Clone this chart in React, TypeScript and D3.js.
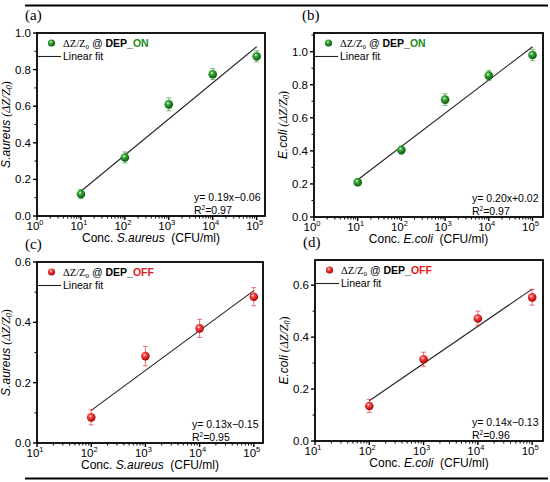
import * as d3 from "d3";

// concentrations (CFU/ml)
const concOn = [1e1, 1e2, 1e3, 1e4, 1e5];
const concOff = [1e2, 1e3, 1e4, 1e5];

// ΔZ/Z0 responses
const saureusOn = [0.12, 0.32, 0.61, 0.775, 0.873];
const saureusOnErr = [0.025, 0.03, 0.035, 0.03, 0.03];
const ecoliOn = [0.21, 0.405, 0.71, 0.855, 0.98];
const ecoliOnErr = [0.02, 0.025, 0.035, 0.03, 0.035];
const saureusOff = [0.085, 0.288, 0.38, 0.485];
const saureusOffErr = [0.025, 0.032, 0.03, 0.03];
const ecoliOff = [0.135, 0.315, 0.472, 0.553];
const ecoliOffErr = [0.025, 0.027, 0.028, 0.03];

// linear fit ends
const fitSaureusOn = [0.135, 0.925];
const fitEcoliOn = [0.225, 1.03];
const fitSaureusOff = [0.108, 0.505];
const fitEcoliOff = [0.155, 0.585];

const fitLabels = ["y= 0.19x\u22120.06", "y= 0.20x+0.02", "y= 0.13x\u22120.15", "y= 0.14x\u22120.13"];
const r2Labels = ["0.97", "0.97", "0.95", "0.96"];
const yTicksOn = [0, 0.2, 0.4, 0.6, 0.8, 1.0];
const yTicksOff = [0, 0.2, 0.4, 0.6];

const GREEN = "#1d8c1d";
const RED = "#e3161c";
const SANS = "'Liberation Sans', Arial, sans-serif";
const SERIF = "'Liberation Serif', 'Times New Roman', serif";

type PanelProps = {
  tag: string;
  box: [number, number, number, number]; // left, top, right, bottom
  xDomain: [number, number];
  yMax: number;
  yTicks: number[];
  conc: number[];
  vals: number[];
  errs: number[];
  fit: number[];
  species: string;
  mode: "ON" | "OFF";
  idx: number;
};

function Panel(p: PanelProps) {
  const [l, t, r, b] = p.box;
  const x = d3.scaleLog().domain(p.xDomain).range([l, r]);
  const y = d3.scaleLinear().domain([0, p.yMax]).range([b, t]);
  const color = p.mode === "ON" ? GREEN : RED;
  const gid = `ball-${p.idx}`;
  const lo = Math.ceil(Math.log10(p.xDomain[0]));
  const hi = Math.floor(Math.log10(p.xDomain[1]));
  const majors = d3.range(lo, hi + 1);
  const minors: number[] = [];
  majors.forEach((e) => {
    for (let k = 2; k <= 9; k++) {
      const v = k * Math.pow(10, e);
      if (v < p.xDomain[1]) minors.push(v);
    }
  });
  const yMinors = d3.range(0.1, p.yMax, 0.2);
  const line = d3
    .line<[number, number]>()
    .x((d) => x(d[0]))
    .y((d) => y(d[1]));
  const fitPts: [number, number][] = [
    [p.conc[0], p.fit[0]],
    [p.conc[p.conc.length - 1], p.fit[1]],
  ];
  const cx = (l + r) / 2;
  const cy = (t + b) / 2;

  return (
    <g>
      <defs>
        <radialGradient id={gid} cx="0.4" cy="0.36" r="0.65">
          <stop offset="0" stopColor="#f4fff4" />
          <stop offset="0.28" stopColor={p.mode === "ON" ? "#3ead3e" : "#ff4a4a"} />
          <stop offset="1" stopColor={p.mode === "ON" ? "#075407" : "#a80000"} />
        </radialGradient>
      </defs>
      <text x={l - 12} y={t - 13} fontFamily={SERIF} fontSize={15}>
        {p.tag}
      </text>
      {/* frame */}
      <rect x={l} y={t} width={r - l} height={b - t} fill="none" stroke="#000" strokeWidth={1.8} />
      {/* x ticks */}
      {majors.map((e) => (
        <g key={e}>
          <line x1={x(Math.pow(10, e))} x2={x(Math.pow(10, e))} y1={b} y2={b + 4} stroke="#000" strokeWidth={1.4} />
          <text x={x(Math.pow(10, e)) - 2} y={b + 14} textAnchor="middle" fontFamily={SANS} fontSize={11.5}>
            10
            <tspan dy={-5} fontSize={7.5}>
              {e}
            </tspan>
          </text>
        </g>
      ))}
      {minors.map((v, i) => (
        <line key={i} x1={x(v)} x2={x(v)} y1={b} y2={b + 2.5} stroke="#000" strokeWidth={1} />
      ))}
      {/* y ticks */}
      {p.yTicks.map((v) => (
        <g key={v}>
          <line x1={l - 4} x2={l} y1={y(v)} y2={y(v)} stroke="#000" strokeWidth={1.4} />
          <text x={l - 6} y={y(v) + 4} textAnchor="end" fontFamily={SANS} fontSize={11.5}>
            {v.toFixed(1)}
          </text>
        </g>
      ))}
      {yMinors.map((v, i) => (
        <line key={i} x1={l - 2.5} x2={l} y1={y(v)} y2={y(v)} stroke="#000" strokeWidth={1} />
      ))}
      {/* axis titles */}
      <text x={cx} y={b + 26} textAnchor="middle" fontFamily={SANS} fontSize={12}>
        Conc. <tspan fontStyle="italic">{p.species}</tspan>
        {"\u00a0\u00a0(CFU/ml)"}
      </text>
      <text
        transform={`translate(${l - 27},${cy}) rotate(-90)`}
        textAnchor="middle"
        fontFamily={SANS}
        fontSize={12}
      >
        <tspan fontStyle="italic">{p.species}</tspan>
        <tspan fontFamily={SERIF} fontStyle="italic">
          {" (\u0394Z/Z"}
        </tspan>
        <tspan fontFamily={SERIF} fontStyle="italic" fontSize={8} dy={2}>
          0
        </tspan>
        <tspan fontFamily={SERIF} dy={-2}>
          )
        </tspan>
      </text>
      {/* fit line */}
      <path d={line(fitPts) ?? ""} fill="none" stroke="#222" strokeWidth={1.1} />
      {/* error bars + markers */}
      {p.conc.map((c, i) => {
        const px = x(c);
        const y1 = y(p.vals[i] - p.errs[i]);
        const y2 = y(p.vals[i] + p.errs[i]);
        return (
          <g key={i}>
            <line x1={px} x2={px} y1={y1} y2={y2} stroke={color} strokeOpacity={0.6} strokeWidth={1} />
            <line x1={px - 2.5} x2={px + 2.5} y1={y1} y2={y1} stroke={color} strokeOpacity={0.6} strokeWidth={1} />
            <line x1={px - 2.5} x2={px + 2.5} y1={y2} y2={y2} stroke={color} strokeOpacity={0.6} strokeWidth={1} />
            <circle cx={px} cy={y(p.vals[i])} r={4.3} fill={`url(#${gid})`} />
          </g>
        );
      })}
      {/* legend */}
      <circle cx={l + 14.5} cy={t + 10} r={3.6} fill={`url(#${gid})`} />
      <text x={l + 26} y={t + 14} fontSize={10.5}>
        <tspan fontFamily={SERIF}>{"\u0394Z/Z"}</tspan>
        <tspan fontFamily={SERIF} fontSize={7} dy={2}>
          0
        </tspan>
        <tspan fontFamily={SANS} dy={-2}>
          {" @ "}
        </tspan>
        <tspan fontFamily={SANS} fontWeight="bold">
          DEP_
        </tspan>
        <tspan fontFamily={SANS} fontWeight="bold" fill={color}>
          {p.mode}
        </tspan>
      </text>
      <line x1={l + 1} x2={l + 24} y1={t + 23.5} y2={t + 23.5} stroke="#222" strokeWidth={1.1} />
      <text x={l + 26} y={t + 27} fontFamily={SANS} fontSize={10.5}>
        Linear fit
      </text>
      {/* fit equation */}
      <text x={r - 71} y={b - 15} fontFamily={SANS} fontSize={10.5}>
        {fitLabels[p.idx]}
      </text>
      <text x={r - 71} y={b - 2} fontFamily={SANS} fontSize={10.5}>
        R<tspan fontSize={6.5} dy={-4}>2</tspan>
        <tspan dy={4}>={r2Labels[p.idx]}</tspan>
      </text>
    </g>
  );
}

export default function App() {
  return (
    <svg
      width={550}
      height={482}
      style={{ position: "absolute", left: 0, top: 0, background: "#fff" }}
    >
      <line x1={25} x2={548} y1={5.5} y2={5.5} stroke="#000" strokeWidth={2.2} />
      <line x1={25} x2={548} y1={478.5} y2={478.5} stroke="#000" strokeWidth={2.2} />
      <Panel
        tag="(a)"
        box={[37, 33, 265, 216]}
        xDomain={[1, Math.pow(10, 5.19)]}
        yMax={1.0}
        yTicks={yTicksOn}
        conc={concOn}
        vals={saureusOn}
        errs={saureusOnErr}
        fit={fitSaureusOn}
        species="S.aureus"
        mode="ON"
        idx={0}
      />
      <Panel
        tag="(b)"
        box={[314, 33, 543, 217]}
        xDomain={[1, Math.pow(10, 5.24)]}
        yMax={1.113}
        yTicks={yTicksOn}
        conc={concOn}
        vals={ecoliOn}
        errs={ecoliOnErr}
        fit={fitEcoliOn}
        species="E.coli"
        mode="ON"
        idx={1}
      />
      <Panel
        tag="(c)"
        box={[37, 262, 263, 443]}
        xDomain={[10, Math.pow(10, 5.17)]}
        yMax={0.6}
        yTicks={yTicksOff}
        conc={concOff}
        vals={saureusOff}
        errs={saureusOffErr}
        fit={fitSaureusOff}
        species="S.aureus"
        mode="OFF"
        idx={2}
      />
      <Panel
        tag="(d)"
        box={[315, 260, 543, 441]}
        xDomain={[10, Math.pow(10, 5.2)]}
        yMax={0.697}
        yTicks={yTicksOff}
        conc={concOff}
        vals={ecoliOff}
        errs={ecoliOffErr}
        fit={fitEcoliOff}
        species="E.coli"
        mode="OFF"
        idx={3}
      />
    </svg>
  );
}
